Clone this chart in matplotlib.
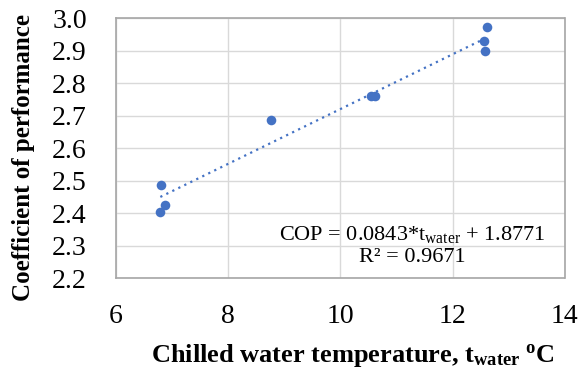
import matplotlib
matplotlib.use("Agg")
import matplotlib.pyplot as plt
import numpy as np

plt.rcParams['font.family'] = ['Liberation Serif', 'DejaVu Serif']
plt.rcParams['mathtext.fontset'] = 'custom'
plt.rcParams['mathtext.rm'] = 'Liberation Serif'
plt.rcParams['mathtext.it'] = 'Liberation Serif:italic'
plt.rcParams['mathtext.bf'] = 'Liberation Serif:bold'

# measured points (chilled water temperature, COP)
t_water = [6.80, 6.87, 6.79, 8.76, 10.54, 10.62, 12.55, 12.58, 12.62]
cop = [2.487, 2.424, 2.404, 2.687, 2.761, 2.761, 2.928, 2.898, 2.972]

# linear trendline as reported on the chart
slope = 0.0843
intercept = 1.8771
r2 = 0.9671

x_ticks = [6, 8, 10, 12, 14]
y_ticks = [2.2, 2.3, 2.4, 2.5, 2.6, 2.7, 2.8, 2.9, 3.0]

blue = '#4472C4'

fig = plt.figure(figsize=(5.8, 3.69), dpi=100)
ax = fig.add_axes([0.2, 0.2466, 0.774, 0.7044])

ax.scatter(t_water, cop, s=48, color=blue, zorder=3, linewidths=0)

xt = np.array([min(t_water), max(t_water)])
ax.plot(xt, slope * xt + intercept, color=blue, linestyle=(0, (1, 2)),
        linewidth=1.6, zorder=2)

ax.set_xlim(6, 14)
ax.set_ylim(2.2, 3.0)
ax.set_xticks(x_ticks)
ax.set_yticks(y_ticks)
ax.set_yticklabels([f'{v:.1f}' for v in y_ticks])
ax.tick_params(length=0, labelsize=20)
ax.tick_params(axis='x', pad=19)
ax.tick_params(axis='y', pad=21)

ax.grid(True, color='#D9D9D9', linewidth=1.0)
ax.set_axisbelow(True)
for sp in ax.spines.values():
    sp.set_color('#A6A6A6')
    sp.set_linewidth(1.2)
    sp.set_linestyle((0, (2, 1)))

ax.set_xlabel(r'Chilled water temperature, $\mathbf{t_{water}}$ $\mathbf{^{o}}$C',
              fontsize=19, fontweight='bold')
ax.xaxis.set_label_coords(0.527, -0.245)
ax.set_ylabel('Coefficient of performance', fontsize=18, fontweight='bold')
ax.yaxis.set_label_coords(-0.18, 0.462)

ax.text(0.66, 0.169, r'COP = %.4f*$\mathregular{t_{water}}$ + %.4f' % (slope, intercept),
        transform=ax.transAxes, ha='center', va='center', fontsize=16)
ax.text(0.66, 0.078, 'R² = %.4f' % r2,
        transform=ax.transAxes, ha='center', va='center', fontsize=16)

fig.savefig('out.png', dpi=100)
